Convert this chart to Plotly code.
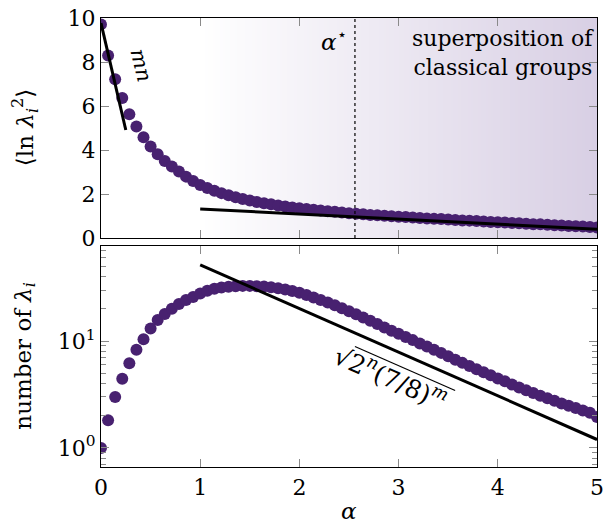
import plotly.graph_objects as go

# ---- data ----
alpha = [i / 14 for i in range(71)]

mean_ln_lambda2 = [
    9.71, 8.30, 7.22, 6.36, 5.63, 5.07, 4.58, 4.16, 3.81, 3.50,
    3.25, 3.02, 2.79, 2.59, 2.41, 2.27, 2.15, 2.04, 1.94, 1.85,
    1.77, 1.70, 1.64, 1.58, 1.53, 1.48, 1.43, 1.39, 1.35, 1.32,
    1.28, 1.25, 1.22, 1.19, 1.16, 1.13, 1.10, 1.08, 1.05, 1.03,
    1.01, 0.99, 0.97, 0.95, 0.93, 0.91, 0.89, 0.87, 0.86, 0.84,
    0.82, 0.80, 0.79, 0.77, 0.75, 0.73, 0.72, 0.70, 0.68, 0.67,
    0.65, 0.63, 0.62, 0.60, 0.58, 0.57, 0.55, 0.53, 0.52, 0.50,
    0.48,
]

number_of_lambda = [
    1.00, 1.82, 3.00, 4.44, 6.20, 8.30, 10.4, 13.1, 15.7, 17.9,
    20.0, 22.2, 24.2, 25.8, 27.9, 29.6, 30.8, 31.6, 32.2, 32.6,
    32.8, 32.8, 32.6, 32.3, 31.8, 31.1, 30.3, 29.4, 28.3, 26.9,
    25.5, 24.2, 22.9, 21.6, 20.3, 19.0, 17.8, 16.6, 15.5, 14.4,
    13.4, 12.5, 11.7, 10.9, 10.2, 9.5, 8.9, 8.3, 7.75, 7.2,
    6.7, 6.25, 5.85, 5.45, 5.1, 4.78, 4.47, 4.2, 3.93, 3.68,
    3.46, 3.26, 3.08, 2.91, 2.76, 2.61, 2.48, 2.36, 2.24, 2.13,
    1.95,
]

fit_steep_x = [0.0, 0.25]
fit_steep_y = [9.77, 4.91]
fit_flat_x = [1.0, 5.0]
fit_flat_y = [1.32, 0.40]
fit_count_x = [1.0, 5.0]
fit_count_y = [51.5, 1.20]

alpha_star = 2.56

top_yticks = [0, 2, 4, 6, 8, 10]
bottom_yticks = [1, 10]
bottom_yticklabels = ["10<sup>0</sup>", "10<sup>1</sup>"]
bottom_minor = [0.7, 0.8, 0.9, 2, 3, 4, 5, 6, 7, 8, 9, 20, 30, 40, 50, 60, 70]
x_ticks = [0, 1, 2, 3, 4, 5]

# ---- style ----
PURPLE = "rgb(72,33,112)"
FONT = "DejaVu Serif"
TICKFONT = dict(family=FONT, size=22, color="black")

fig = go.Figure()

# gradient background (shade) in top panel
n_grad = 160
grad_x = [1 + 4 * (k + 0.5) / n_grad for k in range(n_grad)]
grad_z = [[(k + 0.5) / n_grad for k in range(n_grad)]] * 2
fig.add_trace(go.Heatmap(
    x=grad_x, y=[0, 10], z=grad_z,
    colorscale=[[0, "rgb(255,255,255)"], [1, "rgb(216,207,228)"]],
    zmin=0, zmax=1, showscale=False, hoverinfo="skip",
    xaxis="x", yaxis="y",
))

fig.add_trace(go.Scatter(
    x=alpha, y=mean_ln_lambda2, mode="markers",
    marker=dict(color=PURPLE, size=12, line=dict(width=0)),
    xaxis="x", yaxis="y", showlegend=False,
))
fig.add_trace(go.Scatter(
    x=fit_steep_x, y=fit_steep_y, mode="lines",
    line=dict(color="black", width=3), xaxis="x", yaxis="y", showlegend=False,
))
fig.add_trace(go.Scatter(
    x=fit_flat_x, y=fit_flat_y, mode="lines",
    line=dict(color="black", width=3), xaxis="x", yaxis="y", showlegend=False,
))

fig.add_trace(go.Scatter(
    x=alpha, y=number_of_lambda, mode="markers",
    marker=dict(color=PURPLE, size=12, line=dict(width=0)),
    xaxis="x2", yaxis="y2", showlegend=False,
))
fig.add_trace(go.Scatter(
    x=fit_count_x, y=fit_count_y, mode="lines",
    line=dict(color="black", width=3), xaxis="x2", yaxis="y2", showlegend=False,
))

axis_common = dict(
    showline=True, linecolor="black", linewidth=1.3, mirror="ticks",
    ticks="inside", tickcolor="#8a8a8a", ticklen=8, tickwidth=1.2,
    showgrid=False, zeroline=False, tickfont=TICKFONT, automargin=False,
)

fig.update_layout(
    width=610, height=525,
    margin=dict(l=101, r=13, t=18, b=58),
    paper_bgcolor="white", plot_bgcolor="white",
    font=dict(family=FONT, size=22, color="black"),
    xaxis=dict(domain=[0, 1], anchor="y", range=[0, 5], tickvals=x_ticks,
               showticklabels=False, **axis_common),
    yaxis=dict(domain=[0.510, 1], anchor="x", range=[0, 10], tickvals=top_yticks,
               **axis_common),
    xaxis2=dict(domain=[0, 1], anchor="y2", range=[0, 5], tickvals=x_ticks,
                **axis_common),
    yaxis2=dict(domain=[0, 0.492], anchor="x2", type="log", range=[-0.178, 1.888],
                tickvals=bottom_yticks, ticktext=bottom_yticklabels,
                minor=dict(tickvals=bottom_minor, ticks="inside", ticklen=5,
                           tickcolor="#8a8a8a", tickwidth=1),
                **axis_common),
)

# axis titles
fig.add_annotation(x=-0.155, y=0.755, xref="paper", yref="paper",
                   text="⟨ln <i>λ</i><sub><i>i</i></sub><sup>2</sup>⟩", textangle=-90,
                   showarrow=False, xanchor="center", yanchor="middle",
                   font=dict(family=FONT, size=23))
fig.add_annotation(x=-0.155, y=0.246, xref="paper", yref="paper",
                   text="number of <i>λ</i><sub><i>i</i></sub>", textangle=-90,
                   showarrow=False, xanchor="center", yanchor="middle",
                   font=dict(family=FONT, size=23))
fig.add_annotation(x=0.5, y=-0.098, xref="paper", yref="paper",
                   text="<i>α</i>", showarrow=False, xanchor="center", yanchor="middle",
                   font=dict(family=FONT, size=23))

fig.add_shape(type="line", x0=alpha_star, x1=alpha_star, y0=0, y1=10,
              xref="x", yref="y", line=dict(color="black", width=1.2, dash="dot"))

fig.add_annotation(x=alpha_star, y=9.0, xref="x", yref="y",
                   text="<i>α</i><sup>⋆</sup>", showarrow=False,
                   xanchor="right", yanchor="middle", xshift=-6,
                   font=dict(family=FONT, size=23))
fig.add_annotation(x=5, y=10, xref="x", yref="y",
                   text="superposition of<br>classical groups", showarrow=False,
                   xanchor="right", yanchor="top", align="right", xshift=-1, yshift=-6,
                   font=dict(family=FONT, size=22))
fig.add_annotation(x=0.40, y=7.85, xref="x", yref="y",
                   text="<i>mn</i>", showarrow=False, textangle=76,
                   font=dict(family=FONT, size=21))
# radical label along the fit line, with its vinculum drawn as a thin line
fig.add_annotation(x=2.92, y=0.66, xref="x2", yref="y2",
                   text="√2<sup><i>n</i></sup>(7/8)<sup><i>m</i></sup>",
                   showarrow=False, textangle=24,
                   font=dict(family=FONT, size=25))
fig.add_shape(type="line", x0=2.56, y0=8.9, x1=3.57, y1=3.45,
              xref="x2", yref="y2", line=dict(color="black", width=1.2))

fig.write_html("out.html")
